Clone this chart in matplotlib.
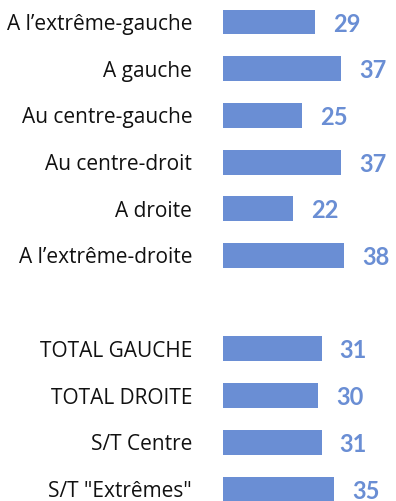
import matplotlib.pyplot as plt

# survey shares by political position (%)
categories = [
    "A l\u2019extrême-gauche",
    "A gauche",
    "Au centre-gauche",
    "Au centre-droit",
    "A droite",
    "A l\u2019extrême-droite",
    "",
    "TOTAL GAUCHE",
    "TOTAL DROITE",
    "S/T Centre",
    'S/T "Extrêmes"',
]
values = [29, 37, 25, 37, 22, 38, None, 31, 30, 31, 35]

BLUE = "#6a8ed4"

fig = plt.figure(figsize=(3.96, 5.01), dpi=100)
ax = fig.add_axes([0.5624, 0.0, 0.4028, 1.0])

rows = list(range(len(categories)))
for y, v in zip(rows, values):
    if v is None:
        continue
    ax.barh(y, v, height=0.535, color=BLUE)
    ax.annotate(str(v), xy=(v, y), xytext=(13, -1.5), textcoords="offset points",
                ha="left", va="center", fontsize=17, fontweight="bold",
                color=BLUE, family="Lato")

ax.set_xlim(0, 50)
ax.set_ylim(10.257, -0.471)
ax.set_yticks(rows)
ax.set_yticklabels(categories, fontsize=15, family="Open Sans", color="#111111")
ax.tick_params(axis="y", length=0, pad=22)
ax.set_xticks([])
for s in ax.spines.values():
    s.set_visible(False)

fig.savefig("out.png", dpi=100)
